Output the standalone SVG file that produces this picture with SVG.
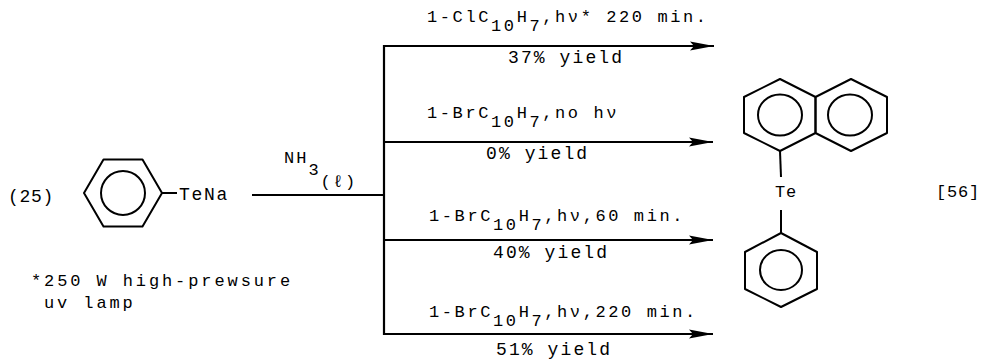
<svg xmlns="http://www.w3.org/2000/svg" width="984" height="360" viewBox="0 0 984 360">
<style>
  .ln { stroke: #000; stroke-width: 2.2; fill: none; }
  .ring { stroke: #000; stroke-width: 2; fill: none; stroke-linejoin: round; }
  .lbl { font-family: "Liberation Mono", "DejaVu Sans Mono", monospace; font-size: 17px; letter-spacing: 2.6px; fill: #000; }
  .yld { font-family: "Liberation Mono", "DejaVu Sans Mono", monospace; font-size: 18px; letter-spacing: 2.1px; fill: #000; }
  .txt { font-family: "Liberation Mono", "DejaVu Sans Mono", monospace; font-size: 17px; fill: #000; }
</style>
<defs>
  <marker id="arr" markerUnits="userSpaceOnUse" markerWidth="24" markerHeight="10" viewBox="0 0 24 10" refX="24" refY="5" orient="auto">
    <path d="M0,0.5 L24,5 L0,9.5 L4,5 Z" fill="#000"/>
  </marker>
</defs>
<rect width="984" height="360" fill="#fff"/>

<g id="reactant">
  <text class="txt" x="8" y="202" style="font-size:18px;letter-spacing:0.7px">(25)</text>
  <polygon class="ring" points="84,193 103.5,159.5 142.5,159.5 162,193 142.5,226.5 103.5,226.5"/>
  <circle class="ring" cx="123" cy="193" r="22"/>
  <line class="ring" x1="162" y1="193" x2="177" y2="193"/>
  <text class="txt" x="179" y="200" style="font-size:18px;letter-spacing:1.7px">TeNa</text>
</g>

<g id="footnote">
  <text class="txt" x="31" y="286" style="letter-spacing:2.9px">*250 W high-prewsure</text>
  <text class="txt" x="44" y="308" style="letter-spacing:2.9px">uv lamp</text>
</g>

<g id="reagent">
  <text class="txt" x="284" y="163" style="letter-spacing:2px">NH<tspan dy="12">3</tspan><tspan dy="12">(ℓ)</tspan></text>
</g>

<g id="connectors">
  <line class="ln" x1="252" y1="195" x2="385" y2="195"/>
  <line class="ln" x1="384" y1="45" x2="384" y2="335"/>
  <line class="ln" x1="383" y1="46" x2="714" y2="46" marker-end="url(#arr)"/>
  <line class="ln" x1="383" y1="142" x2="713" y2="142" marker-end="url(#arr)"/>
  <line class="ln" x1="383" y1="240" x2="713" y2="240" marker-end="url(#arr)"/>
  <line class="ln" x1="383" y1="334" x2="713" y2="334" marker-end="url(#arr)"/>
</g>

<g id="cond1">
  <text class="lbl" x="427" y="22">1-ClC<tspan dy="9">10</tspan><tspan dy="-9">H</tspan><tspan dy="9">7</tspan><tspan dy="-9">,hν* 220 min.</tspan></text>
  <text class="yld" x="508" y="63">37% yield</text>
</g>
<g id="cond2">
  <text class="lbl" x="427" y="118">1-BrC<tspan dy="9">10</tspan><tspan dy="-9">H</tspan><tspan dy="9">7</tspan><tspan dy="-9">,no hν</tspan></text>
  <text class="yld" x="486" y="159">0% yield</text>
</g>
<g id="cond3">
  <text class="lbl" x="429" y="221">1-BrC<tspan dy="9">10</tspan><tspan dy="-9">H</tspan><tspan dy="9">7</tspan><tspan dy="-9">,hν,60 min.</tspan></text>
  <text class="yld" x="493" y="258">40% yield</text>
</g>
<g id="cond4">
  <text class="lbl" x="429" y="317">1-BrC<tspan dy="9">10</tspan><tspan dy="-9">H</tspan><tspan dy="9">7</tspan><tspan dy="-9">,hν,220 min.</tspan></text>
  <text class="yld" x="496" y="355">51% yield</text>
</g>

<g id="product">
  <polygon class="ring" points="780,79 815.5,97 815.5,133 780,151 744,133 744,97"/>
  <polygon class="ring" points="851,79 887,97 887,133 851,151 815.5,133 815.5,97"/>
  <ellipse class="ring" cx="780" cy="115" rx="22" ry="20.5"/>
  <ellipse class="ring" cx="850" cy="115" rx="22" ry="20.5"/>
  <line class="ring" x1="780" y1="151" x2="781" y2="177"/>
  <text class="txt" x="775" y="197" style="letter-spacing:0.8px">Te</text>
  <line class="ring" x1="781" y1="210" x2="781" y2="233"/>
  <polygon class="ring" points="781,233 817,252 817,289 781,307 745,289 745,252"/>
  <ellipse class="ring" cx="781" cy="270" rx="21" ry="20"/>
</g>

<g id="ref">
  <text class="txt" x="936" y="197" style="letter-spacing:0.8px">[56]</text>
</g>
</svg>
